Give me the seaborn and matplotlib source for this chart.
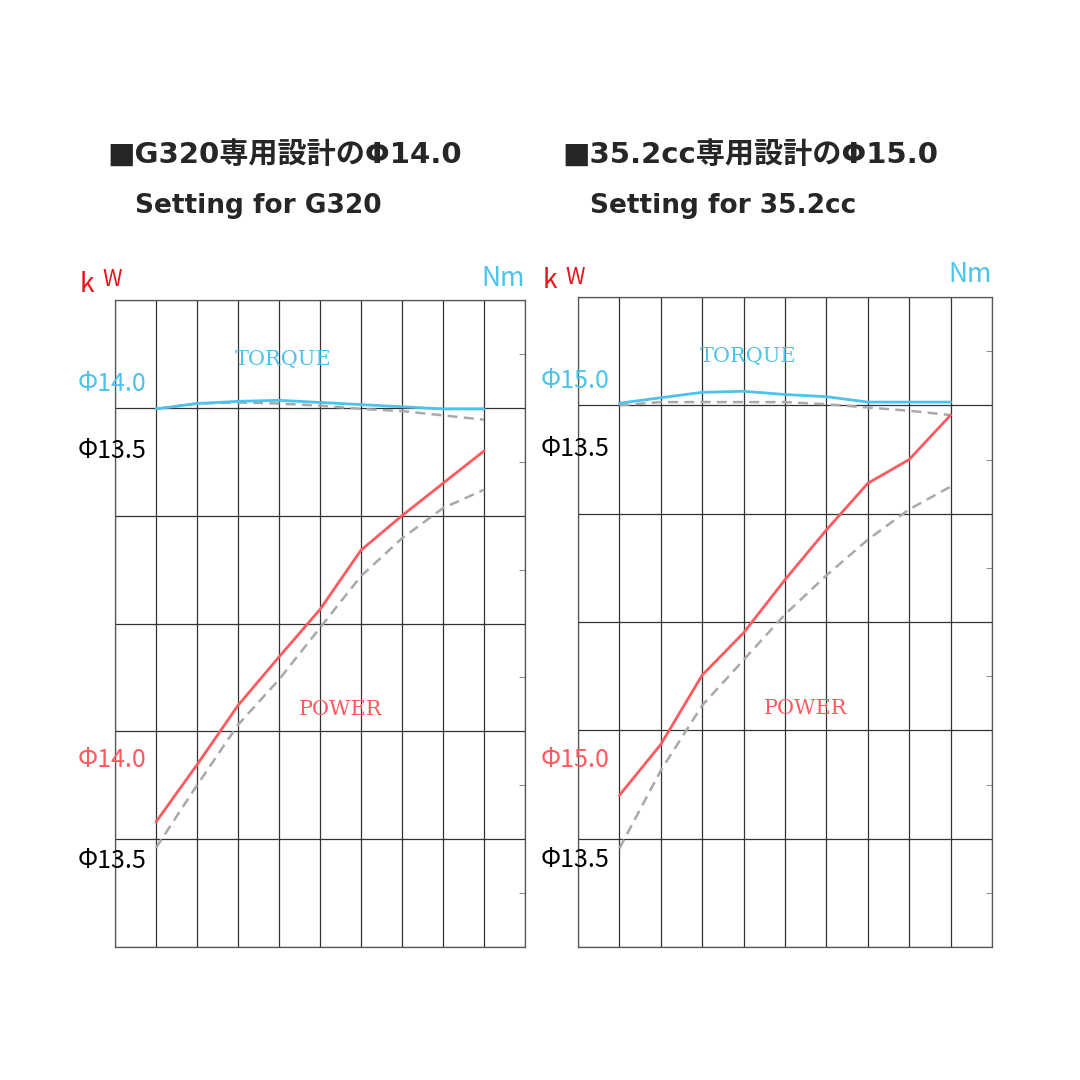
import matplotlib
matplotlib.use("Agg")
import matplotlib.pyplot as plt
import seaborn as sns
import pandas as pd
import numpy as np

sns.set_style("white")
plt.rcParams['font.family'] = ['Noto Sans CJK JP', 'DejaVu Sans']

rpm = [1, 2, 3, 4, 5, 6, 7, 8, 9]
# left panel (G320 Φ14.0 vs Φ13.5)
l_torque_new = [4.99, 5.04, 5.06, 5.07, 5.05, 5.03, 5.01, 4.99, 4.99]
l_torque_old = [4.99, 5.04, 5.05, 5.04, 5.02, 4.99, 4.97, 4.93, 4.89]
l_power_new = [1.16, 1.69, 2.24, 2.69, 3.13, 3.68, 4.00, 4.30, 4.60]
l_power_old = [0.92, 1.50, 2.06, 2.48, 2.96, 3.44, 3.79, 4.07, 4.24]
# right panel (35.2cc Φ15.0 vs Φ13.5)
r_torque_new = [5.02, 5.07, 5.12, 5.13, 5.10, 5.08, 5.03, 5.03, 5.03]
r_torque_old = [5.00, 5.03, 5.03, 5.03, 5.03, 5.01, 4.98, 4.95, 4.91]
r_power_new = [1.40, 1.87, 2.51, 2.90, 3.39, 3.85, 4.28, 4.50, 4.91]
r_power_old = [0.91, 1.63, 2.23, 2.65, 3.07, 3.43, 3.76, 4.04, 4.25]

titles = [("■G320専用設計のΦ14.0", "Setting for G320"),
          ("■35.2cc専用設計のΦ15.0", "Setting for 35.2cc")]
new_labels = ["Φ14.0", "Φ15.0"]
old_label = "Φ13.5"

BLUE = "#4cc3ec"
RED = "#ff5a5f"
GRAY = "#a9a9a9"

fig = plt.figure(figsize=(10.8, 10.8), dpi=100)
W = 1080
boxes = [(115, 300, 525, 947), (578, 297, 992, 947)]
data = [(l_torque_new, l_torque_old, l_power_new, l_power_old),
        (r_torque_new, r_torque_old, r_power_new, r_power_old)]
title_x = [107, 562]
tfam = ['DejaVu Sans', 'Noto Sans CJK JP']
for i, ((x0, y0, x1, y1), (tn, to, pn, po)) in enumerate(zip(boxes, data)):
    ax = fig.add_axes([x0 / W, 1 - y1 / W, (x1 - x0) / W, (y1 - y0) / W])
    df = pd.DataFrame({"x": rpm * 4,
                       "y": tn + to + pn + po,
                       "s": ["tn"] * 9 + ["to"] * 9 + ["pn"] * 9 + ["po"] * 9})
    sns.lineplot(data=df[df.s == "to"], x="x", y="y", ax=ax, color=GRAY, lw=1.8, linestyle=(0, (4, 2.5)))
    sns.lineplot(data=df[df.s == "po"], x="x", y="y", ax=ax, color=GRAY, lw=1.8, linestyle=(0, (4, 2.5)))
    sns.lineplot(data=df[df.s == "tn"], x="x", y="y", ax=ax, color=BLUE, lw=2)
    sns.lineplot(data=df[df.s == "pn"], x="x", y="y", ax=ax, color=RED, lw=2)
    ax.set_xlim(0, 10)
    ax.set_ylim(0, 6)
    ax.set_xticks(range(11))
    ax.set_yticks(range(7))
    ax.set_yticks(np.arange(0, 6.01, 0.5), minor=True)
    ax.grid(True, which="major", color="#333333", lw=0.9)
    ax.tick_params(axis="both", which="major", length=0, labelbottom=False, labelleft=False)
    ax.tick_params(axis="y", which="minor", right=True, left=False, direction="in", length=4, color="#777777")
    for s in ax.spines.values():
        s.set_color("#555555"); s.set_linewidth(0.9)
    ax.set_xlabel(""); ax.set_ylabel("")
    ax.text(4.1, 5.4, "TORQUE", color=BLUE, fontsize=15, family="DejaVu Serif", ha="center")
    ax.text(5.5, 2.15, "POWER", color=RED, fontsize=15, family="DejaVu Serif", ha="center")
    yrow = (y1 - y0) / 6
    def fy(py):
        return 1 - py / W
    lx = x0 / W - 0.035
    fig.text(lx, fy(y0 + yrow * 0.78), new_labels[i], color=BLUE, fontsize=18, va="center")
    fig.text(lx, fy(y0 + yrow * 1.4), old_label, color="black", fontsize=18, va="center")
    fig.text(lx, fy(y0 + yrow * 4.27), new_labels[i], color=RED, fontsize=18, va="center")
    fig.text(lx, fy(y0 + yrow * 5.2), old_label, color="black", fontsize=18, va="center")
    fig.text(x0 / W - 0.033, fy(y0 - 16), "k", color="#e8141c", fontsize=19, va="center")
    fig.text(x0 / W - 0.012, fy(y0 - 20), "W", color="#e8141c", fontsize=16, va="center")
    fig.text(x1 / W, fy(y0 - 22), "Nm", color=BLUE, fontsize=19, va="center", ha="right")
    fig.text(title_x[i] / W, fy(155), titles[i][0], fontsize=21, weight="bold", va="center", family=tfam)
    fig.text(title_x[i] / W + 0.026, fy(206), titles[i][1], fontsize=19, weight="bold", va="center", family=tfam)

fig.savefig("out.png", dpi=100, facecolor="white")
